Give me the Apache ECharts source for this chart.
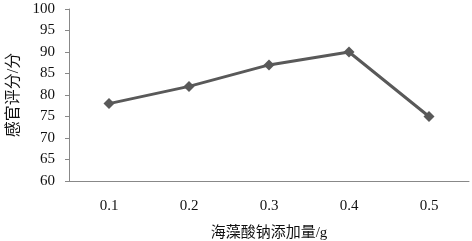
<!DOCTYPE html>
<html><head><meta charset="utf-8">
<script src="https://cdn.jsdelivr.net/npm/echarts@6/dist/echarts.min.js"></script>
<style>html,body{margin:0;padding:0;background:#fff}#c{width:472px;height:241px}</style>
</head><body><div id="c"></div>
<script>
const categories = ['0.1','0.2','0.3','0.4','0.5'];
const scores = [78, 82, 87, 90, 75];
const xTitle = '海藻酸钠添加量/g';
const yTitle = '感官评分/分';
const chart = echarts.init(document.getElementById('c'));
const serif = '"Liberation Serif","Noto Sans CJK SC",serif';
chart.setOption({
  animation: false,
  grid: {left: 69, right: 3, top: 9, bottom: 60, outerBoundsMode: 'none', containLabel: false},
  xAxis: {
    type: 'category', data: categories, boundaryGap: true,
    name: xTitle, nameLocation: 'middle', nameGap: 45,
    nameTextStyle: {fontFamily: serif, fontSize: 15, color: '#111'},
    axisLine: {lineStyle: {color: '#888', width: 1}},
    axisTick: {inside: true, length: 4, lineStyle: {color: '#888'}},
    axisLabel: {fontFamily: serif, fontSize: 15, color: '#111', margin: 18}
  },
  yAxis: {
    type: 'value', min: 60, max: 100, interval: 5,
    name: yTitle, nameLocation: 'middle', nameGap: 45, nameRotate: 90,
    nameTextStyle: {fontFamily: serif, fontSize: 16, color: '#111'},
    axisLine: {show: true, lineStyle: {color: '#888', width: 1}},
    axisTick: {show: true, length: 4, lineStyle: {color: '#888'}},
    splitLine: {show: false},
    axisLabel: {fontFamily: serif, fontSize: 15, color: '#111', margin: 14}
  },
  series: [{
    type: 'line', data: scores,
    symbol: 'diamond', symbolSize: 11,
    lineStyle: {color: '#595959', width: 3},
    itemStyle: {color: '#595959'}
  }]
});
</script></body></html>
